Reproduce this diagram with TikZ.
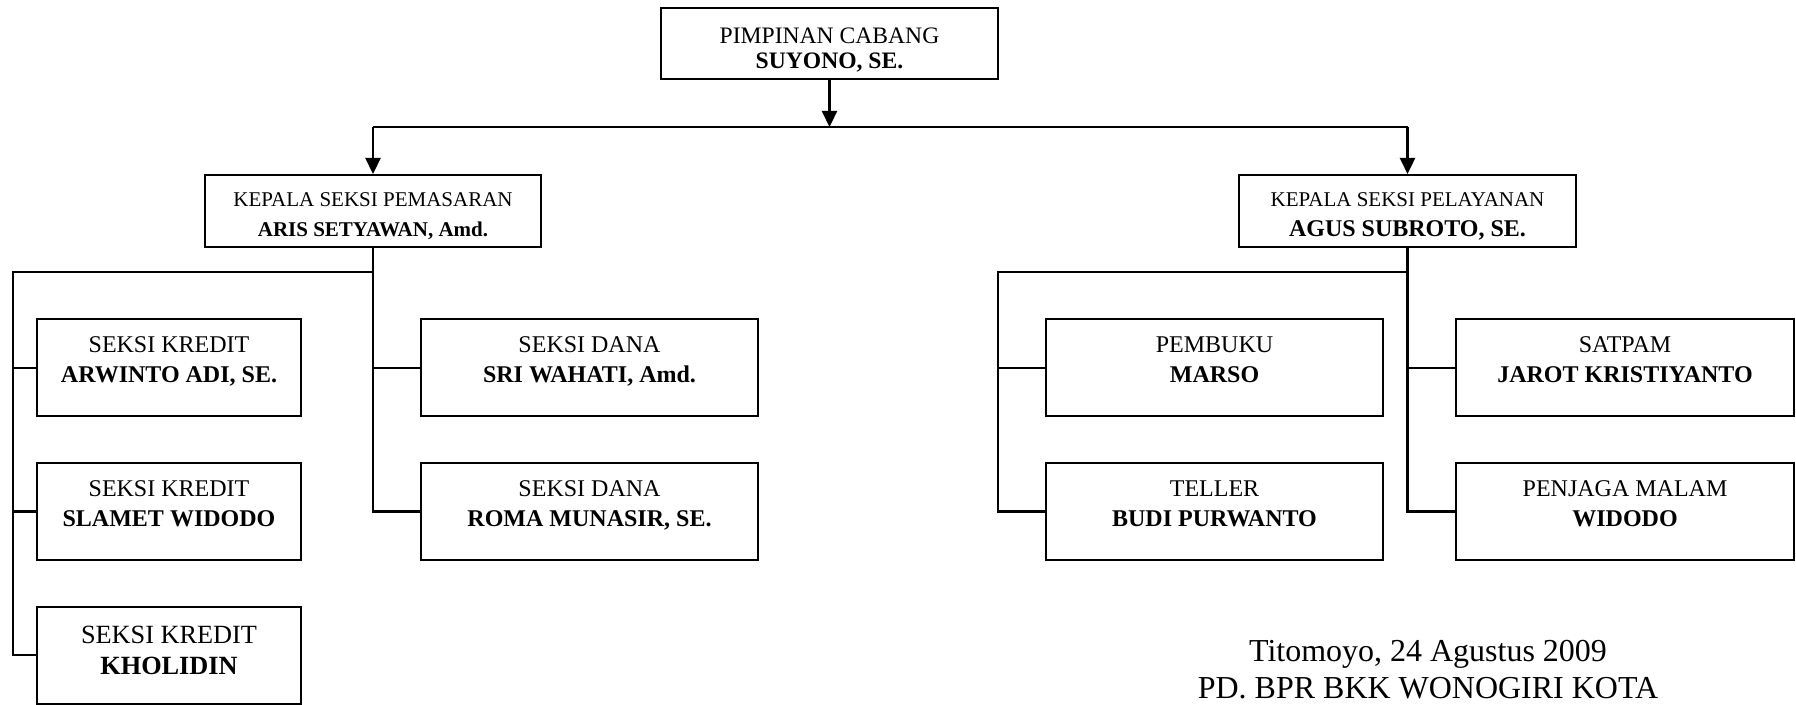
\documentclass[tikz,border=0pt]{standalone}
\usepackage{fontspec}
\setmainfont{Liberation Serif}
\usetikzlibrary{arrows.meta,calc}
\newcommand{\isi}[3][0cm]{\raisebox{#1}[\height][\depth]{\begin{tabular}{@{}c@{}}#2\\\textbf{#3}\end{tabular}}}

\begin{document}
\begin{tikzpicture}[
  kotak/.style={draw,line width=0.042cm,inner sep=0pt,minimum width=6.74cm},
  pimpin/.style={kotak,minimum height=1.414cm,font=\fontsize{13.43pt}{13.83pt}\selectfont},
  kasi/.style={kotak,minimum height=1.446cm,font=\fontsize{11.95pt}{17.07pt}\selectfont},
  staf/.style={kotak,minimum height=1.934cm,font=\fontsize{13.66pt}{17.07pt}\selectfont},
  garis/.style={line width=0.045cm},
  panah/.style={garis,-{Triangle[length=0.32cm,width=0.3cm]}}]
\useasboundingbox (0,0) rectangle (35.92,14.08);
\coordinate (bar) at (0,11.54);
\coordinate (cab) at (0,8.646);
\coordinate (railL) at (0.266,8.646);
\coordinate (railR) at (19.96,8.646);
% pimpinan dan kepala seksi
\node[pimpin] (pimpinan) at (16.59,13.206) {\isi[-0.15cm]{PIMPINAN CABANG}{SUYONO, SE.}};
\node[kasi,minimum width=6.72cm] (pemasaran) at (7.46,9.856) {\isi[-0.09cm]{KEPALA SEKSI PEMASARAN}{ARIS SETYAWAN, Amd.}};
\node[kasi] (pelayanan) at (28.15,9.856) {\isi[-0.09cm]{KEPALA SEKSI PELAYANAN}{\fontsize{13.66pt}{17.07pt}\selectfont AGUS SUBROTO, SE.}};
% seksi pemasaran
\node[staf,minimum width=5.28cm] (kredit1) at (3.38,6.726) {\isi[0.12cm]{SEKSI KREDIT}{ARWINTO ADI, SE.}};
\node[staf,minimum width=5.28cm] (kredit2) at (3.38,3.85) {\isi[0.12cm]{SEKSI KREDIT}{SLAMET WIDODO}};
\node[staf,minimum width=5.28cm,font=\fontsize{14.96pt}{17.64pt}\selectfont] (kredit3) at (3.38,0.974) {\isi[0.06cm]{SEKSI KREDIT}{KHOLIDIN}};
\node[staf] (dana1) at (11.79,6.726) {\isi[0.12cm]{SEKSI DANA}{SRI WAHATI, Amd.}};
\node[staf] (dana2) at (11.79,3.85) {\isi[0.12cm]{SEKSI DANA}{ROMA MUNASIR, SE.}};
% seksi pelayanan
\node[staf] (pembuku) at (24.29,6.726) {\isi[0.12cm]{PEMBUKU}{MARSO}};
\node[staf] (teller) at (24.29,3.85) {\isi[0.12cm]{TELLER}{BUDI PURWANTO}};
\node[staf,minimum width=6.76cm] (satpam) at (32.5,6.726) {\isi[0.12cm]{SATPAM}{JAROT KRISTIYANTO}};
\node[staf,minimum width=6.76cm] (malam) at (32.5,3.85) {\isi[0.12cm]{PENJAGA MALAM}{WIDODO}};
% tanda tangan
\node[inner sep=0pt,font=\fontsize{18.2pt}{21.05pt}\selectfont] (kota) at (28.56,0.638) {\begin{tabular}{@{}c@{}}Titomoyo, 24 Agustus 2009\\PD. BPR BKK WONOGIRI KOTA\end{tabular}};
% garis
\draw[panah] (pimpinan.south) -- (pimpinan.south |- bar);
\draw[garis] (pemasaran.north |- bar) -- (pelayanan.north |- bar);
\foreach \k in {pemasaran,pelayanan}{
\draw[panah] (\k.north |- bar) -- (\k.north);
}
\draw[garis] (pemasaran.south) |- (dana2.west);
\draw[garis] (pemasaran.south |- dana1.west) -- (dana1.west);
\draw[garis] (pemasaran.south |- cab) -- (railL) |- (kredit3.west);
\foreach \k in {kredit1,kredit2}{
\draw[garis] (railL |- \k.west) -- (\k.west);
}
\draw[garis] (pelayanan.south) |- (malam.west);
\draw[garis] (pelayanan.south |- satpam.west) -- (satpam.west);
\draw[garis] (pelayanan.south |- cab) -- (railR) |- (teller.west);
\draw[garis] (railR |- pembuku.west) -- (pembuku.west);
\end{tikzpicture}
\end{document}
